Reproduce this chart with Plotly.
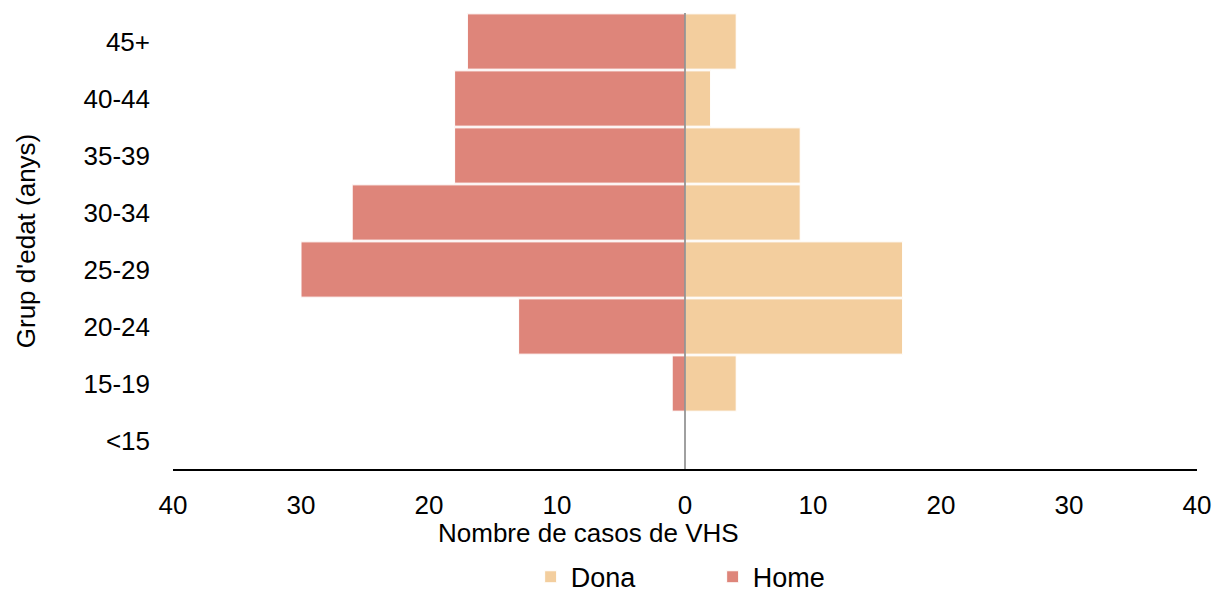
import plotly.graph_objects as go

# Age groups, bottom to top
grups = ['<15', '15-19', '20-24', '25-29', '30-34', '35-39', '40-44', '45+']
dona = [0, 4, 17, 17, 9, 9, 2, 4]
home = [0, 1, 13, 30, 26, 18, 18, 17]

tick_vals = [-40, -30, -20, -10, 0, 10, 20, 30, 40]
tick_text = [str(abs(v)) for v in tick_vals]

fig = go.Figure()
fig.add_trace(go.Bar(y=grups, x=dona, name='Dona', orientation='h',
                     marker=dict(color='#f3ce9e', line=dict(color='white', width=1))))
fig.add_trace(go.Bar(y=grups, x=[-v for v in home], name='Home', orientation='h',
                     customdata=home, hovertemplate='%{y}: %{customdata}<extra>Home</extra>',
                     marker=dict(color='#de857a', line=dict(color='white', width=1))))

# vertical reference line at zero
fig.add_shape(type='line', x0=0, x1=0, xref='x', y0=0, y1=1, yref='paper',
              line=dict(color='#808080', width=1.5), layer='above')

# x axis title sits left of centre in the original
fig.add_annotation(text='Nombre de casos de VHS', xref='paper', yref='paper',
                   x=0.406, y=-0.14, xanchor='center', yanchor='middle',
                   showarrow=False, font=dict(size=26))

fig.update_layout(
    width=1215, height=592,
    barmode='overlay', bargap=0.03,
    plot_bgcolor='white', paper_bgcolor='white',
    font=dict(family='Liberation Sans, Arial, sans-serif', size=26, color='black'),
    margin=dict(l=173, r=18, t=13, b=123),
    legend=dict(orientation='h', x=0.527, xanchor='center', xref='paper',
                y=0.025, yref='container', yanchor='middle',
                font=dict(size=27), entrywidth=137, traceorder='normal'),
    xaxis=dict(range=[-40, 40], tickvals=tick_vals, ticktext=tick_text,
               automargin=False, tickfont=dict(size=26),
               showgrid=False, showline=True, linecolor='black', linewidth=1.5,
               zeroline=False, layer='above traces', ticklabelstandoff=12),
    yaxis=dict(categoryorder='array', categoryarray=grups, showgrid=False,
               automargin=False, tickfont=dict(size=26),
               showline=False, ticklabelstandoff=22,
               title=dict(text="Grup d'edat (anys)", standoff=40, font=dict(size=26))),
)

fig.write_html("out.html", config={'displayModeBar': False},
               post_script="document.body.style.margin='0';")
